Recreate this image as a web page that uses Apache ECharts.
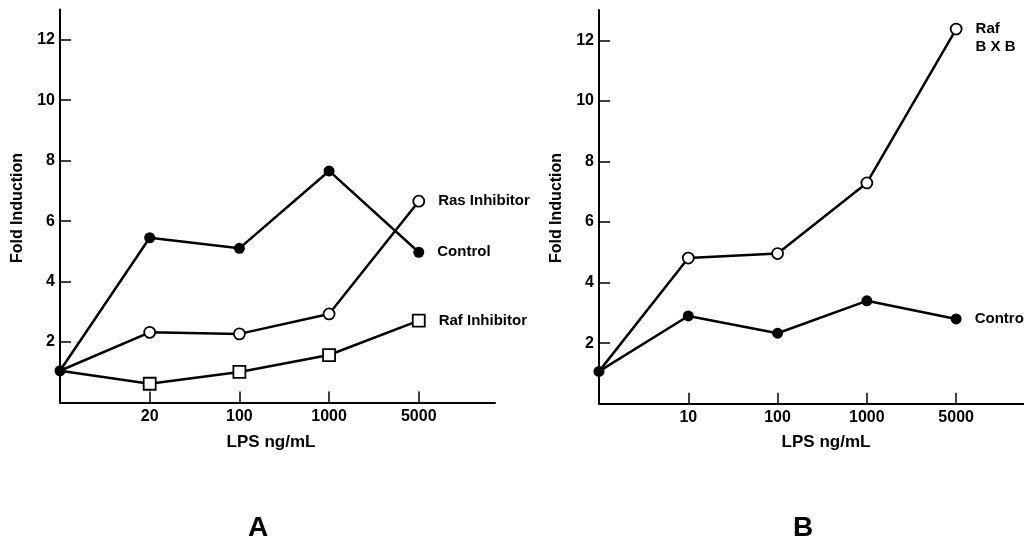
<!DOCTYPE html>
<html>
<head>
<meta charset="utf-8">
<script src="https://cdn.jsdelivr.net/npm/echarts@6/dist/echarts.min.js"></script>
<style>html,body{margin:0;padding:0;background:#fff}#c{width:1024px;height:550px}</style>
</head>
<body>
<div id="c"></div>
<script>
// ---- data ----
var xLabelsA = ['20', '100', '1000', '5000'];
var xLabelsB = ['10', '100', '1000', '5000'];
var yTicks = [2, 4, 6, 8, 10, 12];
// values at positions: origin (unlabelled), then each LPS dose
var controlA = [1.05, 5.45, 5.10, 7.66, 4.97];
var rasInhibitorA = [1.05, 2.32, 2.27, 2.93, 6.66];
var rafInhibitorA = [1.05, 0.62, 1.01, 1.57, 2.71];
var rafBxB_B = [1.07, 4.81, 4.96, 7.29, 12.37];
var controlB = [1.07, 2.90, 2.33, 3.40, 2.80];
var seriesNamesA = ['Ras Inhibitor', 'Raf Inhibitor', 'Control'];
var seriesNamesB = ['Raf\nB X B', 'Control'];

var FONT = '"Liberation Sans", Arial, Helvetica, sans-serif';
var BLACK = '#000';

function toPairs(arr, opts) {
  return arr.map(function (v, i) {
    var item = { value: [i, v] };
    if (i === 0 && opts.hideFirst) { item.symbol = 'none'; }
    if (i === arr.length - 1) {
      item.label = {
        show: true, position: 'right', distance: 13,
        formatter: opts.name, color: BLACK, fontFamily: FONT,
        fontWeight: 'bold', fontSize: 15, lineHeight: 18,
        offset: opts.labelOffset || [0, 0], align: 'left'
      };
    }
    return item;
  });
}

function lineSeries(name, arr, gi, kind, hideFirst, labelOffset) {
  var filled = kind === 'filled';
  return {
    type: 'line', name: name, xAxisIndex: gi, yAxisIndex: gi,
    data: toPairs(arr, { hideFirst: hideFirst, name: name, labelOffset: labelOffset }),
    symbol: kind === 'square' ? 'rect' : 'circle',
    symbolSize: kind === 'square' ? 12 : 11,
    showAllSymbol: true,
    lineStyle: { color: BLACK, width: 2.5 },
    itemStyle: { color: filled ? BLACK : '#fff', borderColor: BLACK, borderWidth: filled ? 0 : 1.8 },
    z: filled ? 5 : 3,
    emphasis: { disabled: true }
  };
}

function xAxis(gi, labels, max) {
  return {
    type: 'value', gridIndex: gi, min: 0, max: max,
    axisLine: { show: true, lineStyle: { color: BLACK, width: 2 } },
    axisTick: { show: true, inside: true, length: 11, customValues: [1, 2, 3, 4], lineStyle: { color: BLACK, width: 1.5 } },
    axisLabel: {
      show: true, customValues: [1, 2, 3, 4], margin: 6,
      formatter: function (v) { return labels[Math.round(v) - 1] || ''; },
      color: BLACK, fontFamily: FONT, fontWeight: 'bold', fontSize: 16
    },
    splitLine: { show: false }
  };
}

function yAxis(gi) {
  return {
    type: 'value', gridIndex: gi, min: 0, max: 13, interval: 2,
    axisLine: { show: true, onZero: false, lineStyle: { color: BLACK, width: 2 } },
    axisTick: { show: true, inside: true, length: 11, customValues: yTicks, lineStyle: { color: BLACK, width: 1.5 } },
    axisLabel: {
      show: true, customValues: yTicks, margin: 5,
      color: BLACK, fontFamily: FONT, fontWeight: 'bold', fontSize: 16
    },
    splitLine: { show: false }
  };
}

function txt(t, x, y, size, rot, weight) {
  return {
    type: 'text', x: x, y: y, rotation: rot || 0,
    style: {
      text: t, x: 0, y: 0, align: 'center', verticalAlign: 'middle',
      fill: BLACK, font: (weight || 'bold') + ' ' + size + 'px ' + FONT
    }
  };
}

var chart = echarts.init(document.getElementById('c'), null, { renderer: 'canvas' });
chart.setOption({
  animation: false,
  backgroundColor: '#fff',
  grid: [
    { left: 60, top: 9.5, width: 435, height: 393, containLabel: false },
    { left: 599, top: 10, width: 425, height: 393.8, containLabel: false }
  ],
  xAxis: [xAxis(0, xLabelsA, 4.85), xAxis(1, xLabelsB, 4.76)],
  yAxis: [yAxis(0), yAxis(1)],
  series: [
    lineSeries(seriesNamesA[0], rasInhibitorA, 0, 'open', true),
    lineSeries(seriesNamesA[1], rafInhibitorA, 0, 'square', true),
    lineSeries(seriesNamesA[2], controlA, 0, 'filled', false),
    lineSeries(seriesNamesB[0], rafBxB_B, 1, 'open', true, [0, 9]),
    lineSeries(seriesNamesB[1], controlB, 1, 'filled', false)
  ],
  graphic: [
    txt('Fold Induction', 18, 208, 16, Math.PI / 2),
    txt('Fold Induction', 557, 208, 16, Math.PI / 2),
    txt('LPS ng/mL', 271, 442, 17),
    txt('LPS ng/mL', 826, 442, 17),
    txt('A', 258, 528, 28, 0, '900'),
    txt('B', 803, 528, 28, 0, '900')
  ]
});
</script>
</body>
</html>
